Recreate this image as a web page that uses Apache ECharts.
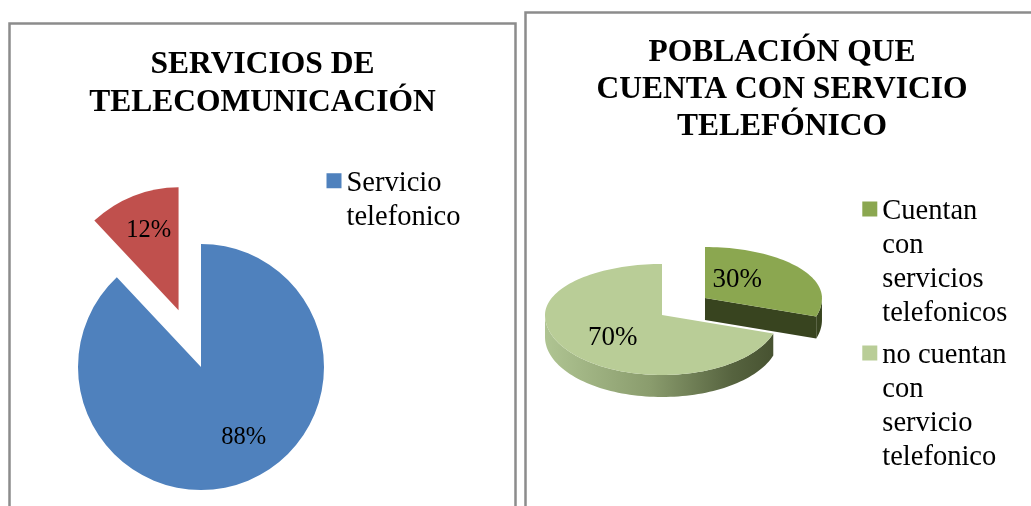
<!DOCTYPE html>
<html>
<head>
<meta charset="utf-8">
<script src="https://cdn.jsdelivr.net/npm/echarts@6/dist/echarts.min.js"></script>
<style>
html,body{margin:0;padding:0;background:#fff;}
#chart{width:1031px;height:506px;}
</style>
</head>
<body>
<div id="chart"></div>
<script>
// ---------- DATA ----------
const pie1Names = ['Servicio telefonico', 'Otros servicios'];
const pie1Values = [88, 12];
const pie1LegendLabels = ['Servicio\ntelefonico'];

const pie2Names = ['Cuentan con servicios telefonicos', 'no cuentan con servicio telefonico'];
const pie2Values = [30, 70];
const pie2LegendLabels = ['Cuentan\ncon\nservicios\ntelefonicos', 'no cuentan\ncon\nservicio\ntelefonico'];

const title1 = 'SERVICIOS DE\nTELECOMUNICACIÓN';
const title2 = 'POBLACIÓN QUE\nCUENTA CON SERVICIO\nTELEFÓNICO';

// ---------- STYLE / LAYOUT ----------
const FONT = 'Liberation Serif, Times New Roman, serif';
const pie1Colors = ['#4F81BD', '#C0504D'];
const pie1LabelShift = [[19, 11], [-6, -20]];

const pie2TopColors = ['#8BA750', '#B9CD97'];
const pie2LegendColors = ['#8BA750', '#B9CD97'];
const pie2WallColors = ['#38441F', '#6F7F55'];
const pie2Explode = [[0.454, 0.567], [0, 0]];
const pie2LabelShift = [[-15, -3], [-2, 5]];
const L3 = {cx: 662, cy: 315, rx: 117, ryFar: 51, ryNear: 60, h: 22};

function iconPath(h, y0, size) {
  return 'path://M0,' + y0 + 'H' + size + 'V' + (y0 + size) + 'H0Z' +
    'M0,0H0.01V0.01H0Z' +
    'M' + (size - 0.01) + ',' + (h - 0.01) + 'H' + size + 'V' + h + 'H' + (size - 0.01) + 'Z';
}

function pt(cx, cy, a, f, dy) {
  const r = a * Math.PI / 180;
  const c = Math.cos(r);
  const ry = c > 0 ? L3.ryFar : L3.ryNear;
  return [cx + f * L3.rx * Math.sin(r), cy - f * ry * c + dy];
}
function arc(cx, cy, a0, a1, f, dy) {
  const n = Math.max(2, Math.ceil(Math.abs(a1 - a0) / 2));
  const out = [];
  for (let k = 0; k <= n; k++) out.push(pt(cx, cy, a0 + (a1 - a0) * k / n, f, dy));
  return out;
}

function render3d(params, api) {
  const i = api.value(0);
  const v = api.value(1);
  const total = pie2Values.reduce((a, b) => a + b, 0);
  let before = 0;
  for (let k = 0; k < i; k++) before += pie2Values[k];
  const a0 = before / total * 360, a1 = (before + v) / total * 360, mid = (a0 + a1) / 2;
  const ex = pie2Explode[i];
  const mr = mid * Math.PI / 180;
  const cx = L3.cx + ex[0] * L3.rx * Math.sin(mr);
  const cy = L3.cy - ex[1] * (Math.cos(mr) > 0 ? L3.ryFar : L3.ryNear) * Math.cos(mr);
  const children = [];
  // outer (front) side
  const s0 = Math.max(a0, 90), s1 = Math.min(a1, 270);
  if (s1 > s0) {
    const top = arc(cx, cy, s0, s1, 1, 0);
    const bot = arc(cx, cy, s1, s0, 1, L3.h);
    let fill;
    if (i === 1) {
      fill = new echarts.graphic.LinearGradient(cx - L3.rx, 0, cx + L3.rx, 0, [
        {offset: 0, color: '#AFC492'},
        {offset: 0.45, color: '#8A9C6D'},
        {offset: 0.8, color: '#56633F'},
        {offset: 1, color: '#45502F'}
      ], true);
    } else {
      fill = pie2WallColors[i];
    }
    children.push({type: 'polygon', shape: {points: top.concat(bot)}, style: {fill: fill}});
  }
  // radial walls facing viewer
  function wall(a) {
    const p = pt(cx, cy, a, 1, 0);
    return [[cx, cy], p, [p[0], p[1] + L3.h], [cx, cy + L3.h]];
  }
  if (a1 > 0 && a1 < 180) children.push({type: 'polygon', shape: {points: wall(a1)}, style: {fill: pie2WallColors[i]}});
  if (a0 > 180 && a0 < 360) children.push({type: 'polygon', shape: {points: wall(a0)}, style: {fill: pie2WallColors[i]}});
  // top face
  children.push({
    type: 'polygon',
    shape: {points: [[cx, cy]].concat(arc(cx, cy, a0, a1, 1, 0))},
    style: {fill: pie2TopColors[i]}
  });
  // label
  const lp = pt(cx, cy, mid, 0.5, 0);
  children.push({
    type: 'text',
    style: {
      text: Math.round(v / total * 100) + '%',
      x: lp[0] + pie2LabelShift[i][0],
      y: lp[1] + pie2LabelShift[i][1],
      align: 'center', verticalAlign: 'middle',
      fontSize: 27, fontFamily: FONT, fill: '#000'
    }
  });
  return {type: 'group', children: children};
}

const chart = echarts.init(document.getElementById('chart'), null, {renderer: 'canvas'});

const option = {
  backgroundColor: '#ffffff',
  animation: false,
  title: [
    {
      text: title1, left: 262.5, top: 46.5, textAlign: 'center', padding: 0,
      textStyle: {fontFamily: FONT, fontWeight: 'bold', fontSize: 31.5, lineHeight: 37.5, color: '#000'}
    },
    {
      text: title2, left: 782, top: 34.5, textAlign: 'center', padding: 0,
      textStyle: {fontFamily: FONT, fontWeight: 'bold', fontSize: 31.5, lineHeight: 37, color: '#000'}
    }
  ],
  legend: [
    {
      orient: 'vertical', left: 326.5, top: 167, padding: 0,
      itemWidth: 15, itemHeight: 68, itemGap: 0, textGap: 6,
      selectedMode: false,
      data: [{name: pie1Names[0], icon: iconPath(68, 6.3, 15)}],
      formatter: function (name) { return pie1LegendLabels[pie1Names.indexOf(name)]; },
      textStyle: {fontFamily: FONT, fontSize: 28.5, lineHeight: 34, color: '#000'}
    },
    {
      orient: 'vertical', left: 862.3, top: 195, padding: 0,
      itemWidth: 15, itemHeight: 136, itemGap: 8, textGap: 6,
      selectedMode: false,
      data: pie2Names.map(function (n) { return {name: n, icon: iconPath(136, 6.6, 15)}; }),
      formatter: function (name) { return pie2LegendLabels[pie2Names.indexOf(name)]; },
      textStyle: {fontFamily: FONT, fontSize: 28.5, lineHeight: 34, color: '#000'}
    }
  ],
  graphic: [
    {type: 'rect', silent: true, z: 0, shape: {x: 9.5, y: 23.5, width: 506, height: 600},
      style: {fill: 'none', stroke: '#8c8c8c', lineWidth: 2.5}},
    {type: 'rect', silent: true, z: 0, shape: {x: 525.5, y: 12.5, width: 600, height: 600},
      style: {fill: 'none', stroke: '#8c8c8c', lineWidth: 2.5}}
  ],
  series: [
    {
      type: 'pie',
      name: 'Servicios',
      center: [201, 367],
      radius: 123,
      startAngle: 90,
      clockwise: true,
      selectedMode: 'single',
      selectedOffset: 61,
      avoidLabelOverlap: false,
      emphasis: {disabled: true},
      itemStyle: {borderWidth: 0},
      label: {
        show: true, position: 'inside',
        formatter: function (p) { return Math.round(p.percent) + '%'; },
        fontFamily: FONT, fontSize: 24.5, color: '#000', textBorderWidth: 0
      },
      labelLine: {show: false},
      labelLayout: function (p) {
        return {dx: pie1LabelShift[p.dataIndex][0], dy: pie1LabelShift[p.dataIndex][1]};
      },
      data: pie1Names.map(function (n, i) {
        return {name: n, value: pie1Values[i], selected: i === 1, itemStyle: {color: pie1Colors[i]}};
      })
    },
    {
      type: 'custom',
      name: pie2Names[0],
      coordinateSystem: 'none',
      itemStyle: {color: pie2LegendColors[0]},
      renderItem: render3d,
      silent: true,
      data: [[0, pie2Values[0]]]
    },
    {
      type: 'custom',
      name: pie2Names[1],
      coordinateSystem: 'none',
      itemStyle: {color: pie2LegendColors[1]},
      renderItem: render3d,
      silent: true,
      data: [[1, pie2Values[1]]]
    }
  ]
};
chart.setOption(option);
</script>
</body>
</html>
